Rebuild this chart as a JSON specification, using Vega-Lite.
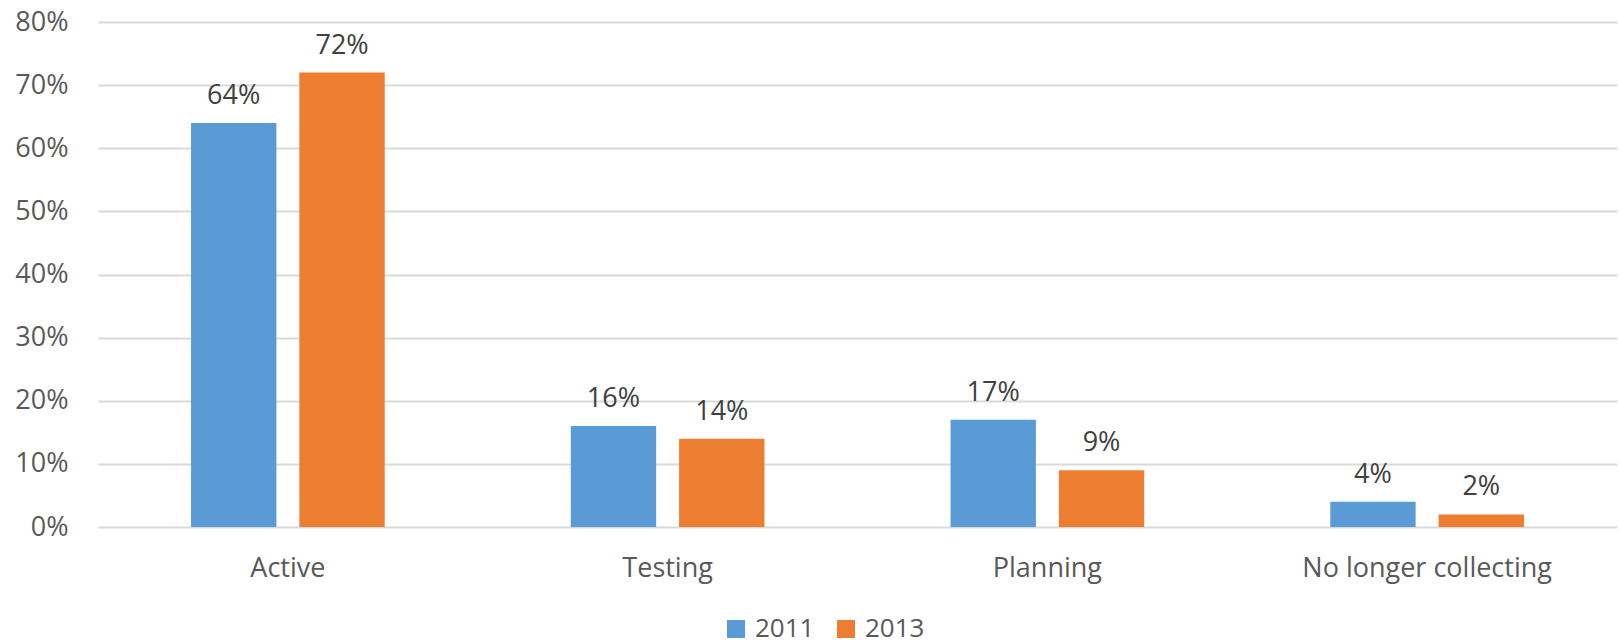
{
  "$schema": "https://vega.github.io/schema/vega-lite/v6.json",
  "autosize": {"type": "none"},
  "padding": {"left": 98, "top": 22, "right": 2, "bottom": 117},
  "width": 1519,
  "height": 505,
  "background": "white",
  "config": {
    "view": {"stroke": null},
    "font": "Open Sans"
  },
  "data": {
    "values": [
      {"status": "Active", "year": "2011", "share": 0.64},
      {"status": "Active", "year": "2013", "share": 0.72},
      {"status": "Testing", "year": "2011", "share": 0.16},
      {"status": "Testing", "year": "2013", "share": 0.14},
      {"status": "Planning", "year": "2011", "share": 0.17},
      {"status": "Planning", "year": "2013", "share": 0.09},
      {"status": "No longer collecting", "year": "2011", "share": 0.04},
      {"status": "No longer collecting", "year": "2013", "share": 0.02}
    ]
  },
  "encoding": {
    "x": {
      "field": "status",
      "type": "nominal",
      "sort": ["Active", "Testing", "Planning", "No longer collecting"],
      "scale": {"paddingInner": 0.49, "paddingOuter": 0.245},
      "axis": {
        "title": null,
        "labelAngle": 0,
        "labelFontSize": 27,
        "labelColor": "#595959",
        "labelPadding": 28,
        "labelLimit": 0,
        "ticks": false,
        "domain": false
      }
    },
    "xOffset": {
      "field": "year",
      "type": "nominal",
      "scale": {"paddingInner": 0.212, "paddingOuter": 0}
    },
    "y": {
      "field": "share",
      "type": "quantitative",
      "scale": {"domain": [0, 0.8], "nice": false},
      "axis": {
        "title": null,
        "format": ".0%",
        "values": [0, 0.1, 0.2, 0.3, 0.4, 0.5, 0.6, 0.7, 0.8],
        "labelFontSize": 27,
        "labelColor": "#595959",
        "labelPadding": 30,
        "ticks": false,
        "domain": false,
        "gridColor": "#D9D9D9",
        "gridWidth": 2
      }
    }
  },
  "layer": [
    {
      "mark": {"type": "bar"},
      "encoding": {
        "color": {
          "field": "year",
          "type": "nominal",
          "scale": {"domain": ["2011", "2013"], "range": ["#5B9BD5", "#ED7D31"]},
          "legend": {
            "title": null,
            "orient": "none",
            "direction": "horizontal",
            "legendX": 625,
            "legendY": 594,
            "symbolType": "square",
            "symbolSize": 324,
            "symbolStrokeWidth": 0,
            "labelFontSize": 26,
            "labelColor": "#595959",
            "labelOffset": 6,
            "columnPadding": 18,
            "padding": 0
          }
        }
      }
    },
    {
      "mark": {"type": "text", "baseline": "alphabetic", "dy": -19, "fontSize": 27, "color": "#404040"},
      "encoding": {
        "text": {"field": "share", "type": "quantitative", "format": ".0%"}
      }
    }
  ]
}
